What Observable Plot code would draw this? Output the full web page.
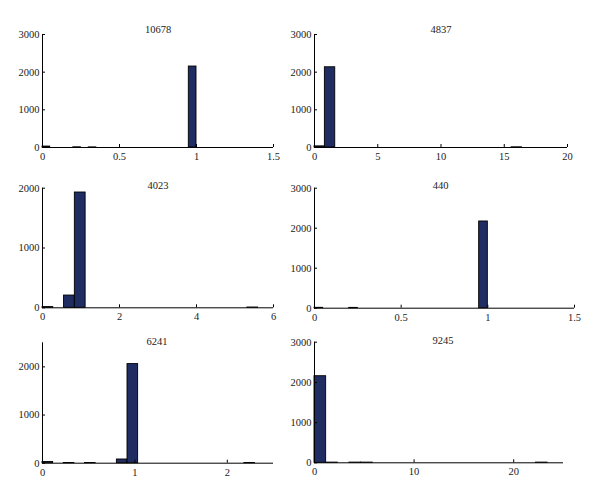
<!DOCTYPE html>
<html>
<head>
<meta charset="utf-8">
<script src="https://cdn.jsdelivr.net/npm/d3@7"></script>
<script src="https://cdn.jsdelivr.net/npm/@observablehq/plot@0.6"></script>
<style>
  html, body { margin: 0; padding: 0; background: #fff; }
  #root { position: relative; width: 600px; height: 499px; overflow: hidden; }
  #root > svg { position: absolute; }
</style>
</head>
<body>
<div id="root"></div>
<script>
// Panel titles
const titles = ["10678", "4837", "4023", "440", "6241", "9245"];
// Upper edge of histogram range (20 equal bins from 0)
const binMax = [1.0, 16.4, 5.6, 1.0, 2.3, 23.4];
// Bin counts (20 bins each)
const counts1 = [25, 0, 0, 0, 5, 0, 3, 0, 0, 0, 0, 0, 0, 0, 0, 0, 0, 0, 0, 2150];
const counts2 = [30, 2130, 0, 0, 0, 0, 0, 0, 0, 0, 0, 0, 0, 0, 0, 0, 0, 0, 0, 5];
const counts3 = [12, 0, 205, 1928, 0, 0, 0, 0, 0, 0, 0, 0, 0, 0, 0, 0, 0, 0, 0, 5];
const counts4 = [10, 0, 0, 0, 8, 0, 0, 0, 0, 0, 0, 0, 0, 0, 0, 0, 0, 0, 0, 2168];
const counts5 = [25, 0, 5, 0, 5, 0, 0, 77, 2058, 0, 0, 0, 0, 0, 0, 0, 0, 0, 0, 5];
const counts6 = [2154, 5, 0, 5, 5, 0, 0, 0, 0, 0, 0, 0, 0, 0, 0, 0, 0, 0, 0, 5];
// Axis domains and ticks
const xDomains = [[0, 1.5], [0, 20], [0, 6], [0, 1.5], [0, 2.5], [0, 25]];
const xTicks = [[0, 0.5, 1, 1.5], [0, 5, 10, 15, 20], [0, 2, 4, 6], [0, 0.5, 1, 1.5], [0, 1, 2], [0, 10, 20]];
const yDomains = [[0, 3000], [0, 3000], [0, 2000], [0, 3000], [0, 2500], [0, 3000]];
const yTicks = [[0, 1000, 2000, 3000], [0, 1000, 2000, 3000], [0, 1000, 2000], [0, 1000, 2000, 3000], [0, 1000, 2000], [0, 1000, 2000, 3000]];

const allCounts = [counts1, counts2, counts3, counts4, counts5, counts6];

// Layout (pixel boxes for each panel)
const layout = [
  {left: 0,   top: 0,   width: 300, height: 165, mt: 34,   mb: 18,   ml: 42, mr: 27, tdy: -9,   tdx: 0},
  {left: 300, top: 0,   width: 300, height: 165, mt: 34,   mb: 18,   ml: 14, mr: 33, tdy: -9,   tdx: 0},
  {left: 0,   top: 165, width: 300, height: 165, mt: 22.7, mb: 22.7, ml: 42, mr: 27, tdy: -7,   tdx: 0},
  {left: 300, top: 165, width: 300, height: 165, mt: 22.7, mb: 22.3, ml: 14, mr: 26, tdy: -7,   tdx: -4},
  {left: 0,   top: 330, width: 300, height: 169, mt: 12.3, mb: 36.3, ml: 42, mr: 27, tdy: -5.5, tdx: -1},
  {left: 300, top: 330, width: 300, height: 169, mt: 11.7, mb: 36.7, ml: 14, mr: 37, tdy: -5.5, tdx: 4}
];

const root = document.getElementById("root");

allCounts.forEach((counts, i) => {
  const w = binMax[i] / counts.length;
  const bins = counts.map((c, j) => ({x1: j * w, x2: (j + 1) * w, y: c}));
  const L = layout[i];
  const chart = Plot.plot({
    width: L.width,
    height: L.height,
    marginTop: L.mt,
    marginBottom: L.mb,
    marginLeft: L.ml,
    marginRight: L.mr,
    style: {fontFamily: "'Liberation Serif', 'Times New Roman', serif", fontSize: "10.5px", color: "#222", background: "transparent", overflow: "visible"},
    x: {domain: xDomains[i]},
    y: {domain: yDomains[i]},
    marks: [
      Plot.rectY(bins, {x1: "x1", x2: "x2", y: "y", fill: "#1f2d62", stroke: "#000", strokeWidth: 0.9}),
      Plot.ruleY([0], {stroke: "#000", strokeWidth: 1}),
      Plot.ruleX([0], {stroke: "#000", strokeWidth: 1}),
      Plot.axisX({ticks: xTicks[i], tickSize: -3, tickPadding: 8, label: null, tickFormat: d3.format("~g"), stroke: "#000"}),
      Plot.axisY({ticks: yTicks[i], tickSize: -3, tickPadding: 6, label: null, tickFormat: d3.format("d"), stroke: "#000"}),
      Plot.text([titles[i]], {frameAnchor: "top", dy: L.tdy, dx: L.tdx, text: d => d, fontSize: 10.5, fill: "#222"})
    ]
  });
  chart.style.left = L.left + "px";
  chart.style.top = L.top + "px";
  root.appendChild(chart);
});
</script>
</body>
</html>
